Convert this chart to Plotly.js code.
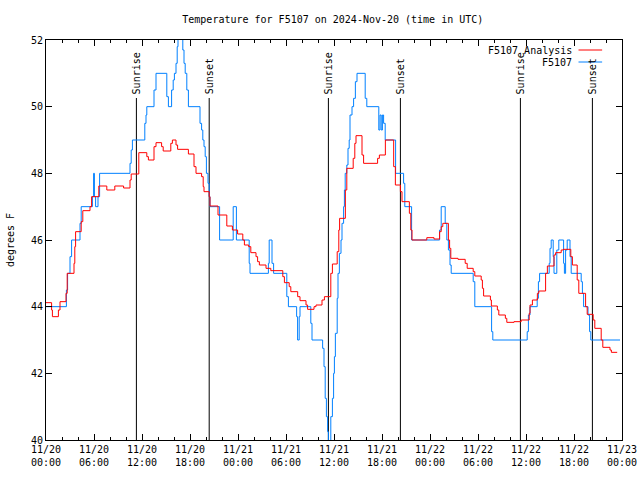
<!DOCTYPE html>
<html>
<head>
<meta charset="utf-8">
<script src="https://cdn.plot.ly/plotly-3.0.1.min.js"></script>
<style>html,body{margin:0;padding:0;background:#fff;}#chart{width:640px;height:480px;}</style>
</head>
<body>
<div id="chart"></div>
<script>
// hours since 2024-11-20 00:00 UTC
const analysisName = "F5107 Analysis";
const analysisHours = [0,0.7,0.8,1.55,1.75,2.5,2.65,3.5,3.6,3.7,4.4,4.6,5.5,5.7,6.6,7.6,8.6,9.7,10.5,10.65,11.6,12.6,12.8,13.5,13.75,14.45,14.65,15.6,15.8,16.25,16.45,17.8,18.5,18.75,19.45,19.65,19.75,20.4,20.5,21.5,22.6,23.3,23.95,24.6,24.8,25.33,25.6,26.25,26.45,26.67,27.5,28.1,29.6,29.8,30.4,30.6,31.46,31.75,32.5,32.7,33.5,33.75,34.5,34.8,35.6,35.8,36.4,36.6,36.7,37.42,37.6,38.4,38.6,38.75,39.5,39.7,41.45,41.67,42.42,43.46,43.67,44.3,44.5,45.42,45.6,45.75,47.6,48.5,49.2,49.4,49.6,50.3,50.45,50.6,51.5,52.4,52.65,53.4,53.6,54.4,54.55,54.7,55.55,55.67,56.42,56.6,57.42,57.6,58.5,59.4,60.4,60.5,60.8,61.42,61.6,62.45,62.67,63.5,63.7,64.4,64.67,65.6,65.8,66.4,66.6,67.45,67.65,68.4,68.6,69.4,69.6,70.5,70.67,71.4];
const analysisTemps = [44.12,43.9,43.7,43.9,44.15,44.4,45.0,45.3,45.8,46.25,46.55,46.88,47.0,47.3,47.62,47.5,47.62,47.56,47.8,47.98,48.62,48.5,48.4,48.8,48.92,48.8,48.67,48.9,49.0,48.85,48.72,48.58,48.2,48.0,47.9,47.6,47.45,47.3,47.02,46.75,46.42,46.3,46.18,46.0,45.85,45.8,45.62,45.5,45.35,45.25,45.15,45.08,44.9,44.72,44.6,44.45,44.3,44.18,44.05,43.92,44.0,44.05,44.2,44.3,45.0,45.28,45.65,46.3,46.65,47.5,48.15,48.45,48.9,49.13,48.55,48.3,48.45,48.55,49.0,48.2,47.65,47.45,47.15,46.8,46.3,46.0,46.07,46.03,46.25,46.4,46.5,46.0,45.75,45.45,45.42,45.3,45.15,45.05,44.92,44.8,44.55,44.32,44.2,44.02,43.9,43.75,43.65,43.53,43.55,43.6,43.8,44.05,44.2,44.4,44.47,45.0,45.22,45.55,45.62,45.7,45.72,45.5,45.25,44.8,44.4,44.0,43.77,43.6,43.35,43.0,42.78,42.7,42.63,42.63];

const obsName = "F5107";
const obsHours = [0,2.55,2.7,3.0,3.2,4.25,4.4,5.8,5.95,6.05,6.2,6.5,6.7,10.5,10.65,10.8,12.35,12.5,12.6,13.5,13.75,15.1,15.3,15.7,15.9,16.05,16.25,16.4,16.5,17.1,17.25,17.4,17.6,17.8,19.25,19.45,19.6,19.75,19.9,20.05,20.25,20.4,20.5,21.7,23.4,23.8,25.4,25.5,27.8,27.9,28.25,28.45,30.1,30.3,31.33,31.45,31.65,31.75,33.1,33.25,34.58,34.75,34.9,35.05,35.2,35.3,35.6,35.8,35.95,36.05,36.17,36.4,36.5,36.67,36.875,37.0,37.2,37.3,37.4,37.6,37.75,37.9,38.0,38.25,38.45,38.67,38.875,39.9,40.1,41.6,41.75,41.9,42.05,42.2,42.4,43.7,44.7,44.85,45.7,49.2,49.4,49.9,50.1,50.3,50.5,50.65,53.4,53.6,55.7,55.85,60.15,60.3,60.5,61.4,61.55,61.7,62.9,63.0,63.15,63.4,63.5,63.85,64.1,64.7,64.8,64.95,65.15,65.5,65.65,66.9,67.05,67.2,67.75,67.95,68.1,71.75];
const obsTemps = [44,44.5,45,45.5,46,46.5,47,47.3,48,47.3,47,47.3,48,48.3,48.7,49,49.5,49.75,50,50.5,51,50.3,50,50.5,50.8,51,51.3,51.8,52.3,51.7,51.3,51,50.5,50,49.5,49.3,49,48.8,48.5,48,47.7,47.3,47,46,47,46,45.3,45,45.3,46,45.3,45,44.3,44,43.7,43,43.7,44,43.5,43,42.75,42.2,41.25,40.7,40.25,39.8,40.7,41.25,42,42.5,43.2,44.25,45,45.6,46,46.5,47,47.5,48,48.25,48.75,49,49.75,50,50.25,50.75,51,50.25,50,49.3,49.75,49.3,49.75,49.5,49,48,47.7,47,46,46.3,47,46.5,46,45.7,45.25,45,44.75,44,43.25,43,43.25,43.75,44,44.25,44.75,45,45.3,45.75,46,45.5,45,45.7,46,45.3,45,45.7,46,45.5,45,44.75,44.4,44,43.75,43.25,43,43];

const sunHours = [11.3, 20.4, 35.3, 44.3, 59.3, 68.3];
const sunLabels = ["Sunrise", "Sunset", "Sunrise", "Sunset", "Sunrise", "Sunset"];
const sunLineTop = 50.26;

const xTickVals = [0,6,12,18,24,30,36,42,48,54,60,66,72];
const xTickDays = ["11/20","11/20","11/20","11/20","11/21","11/21","11/21","11/21","11/22","11/22","11/22","11/22","11/23"];
const xTickTimes = ["00:00","06:00","12:00","18:00","00:00","06:00","12:00","18:00","00:00","06:00","12:00","18:00","00:00"];
const yTickVals = [40,42,44,46,48,50,52];

const FONT = "DejaVu Sans Mono, monospace";
const colors = {analysis: "#ff0000", obs: "#0080ff"};

const sunX = [], sunY = [];
sunHours.forEach(h => { sunX.push(h, h, null); sunY.push(40, sunLineTop, null); });

const traces = [
  {x: sunX, y: sunY, mode: "lines", line: {color: "#000", width: 1}, showlegend: false, hoverinfo: "skip"},
  {x: obsHours, y: obsTemps, name: obsName, mode: "lines", line: {color: colors.obs, width: 1, shape: "hv"}, showlegend: false},
  {x: analysisHours, y: analysisTemps, name: analysisName, mode: "lines", line: {color: colors.analysis, width: 1, shape: "hv"}, showlegend: false}
];

const annotations = sunHours.map((h, i) => ({
  x: h, y: sunLineTop, xref: "x", yref: "y", text: sunLabels[i], textangle: -90,
  showarrow: false, xanchor: "center", yanchor: "bottom", yshift: 2,
  font: {family: FONT, size: 10, color: "#000"}
}));
// legend (gnuplot style: text right, sample line after)
const legendEntries = [[analysisName, colors.analysis, 0.975], [obsName, colors.obs, 0.945]];
const shapes = [];
legendEntries.forEach(([name, col, yp]) => {
  annotations.push({x: 0.9175, y: yp, xref: "paper", yref: "paper", text: name, showarrow: false,
    xanchor: "right", yanchor: "middle", font: {family: FONT, size: 10, color: "#000"}});
  shapes.push({type: "line", xref: "paper", yref: "paper", x0: 0.9245, x1: 0.9655, y0: yp, y1: yp,
    line: {color: col, width: 1}});
});

const layout = {
  width: 640, height: 480,
  margin: {l: 46, r: 18, t: 40, b: 40},
  paper_bgcolor: "#fff", plot_bgcolor: "#fff",
  font: {family: FONT, size: 10, color: "#000"},
  title: {text: "Temperature for F5107 on 2024-Nov-20 (time in UTC)", x: 0.52, xanchor: "center", y: 0.96, yanchor: "middle",
    font: {family: FONT, size: 10, color: "#000"}},
  xaxis: {range: [0, 72], tickmode: "array", tickvals: xTickVals,
    ticktext: xTickVals.map((v, i) => xTickDays[i] + "<br>" + xTickTimes[i]),
    ticks: "inside", ticklen: 6, tickcolor: "#000", mirror: "allticks", showline: true, linecolor: "#000", linewidth: 1,
    showgrid: false, zeroline: false, fixedrange: true,
    minor: {tickmode: "linear", tick0: 0, dtick: 2, ticks: "inside", ticklen: 3, tickcolor: "#000", showgrid: false},
    tickfont: {family: FONT, size: 10, color: "#000"}},
  yaxis: {range: [40, 52], tickmode: "array", tickvals: yTickVals, ticktext: yTickVals.map(String),
    ticks: "inside", ticklen: 6, tickcolor: "#000", mirror: "allticks", showline: true, linecolor: "#000", linewidth: 1,
    showgrid: false, zeroline: false, fixedrange: true,
    title: {text: "degrees F", standoff: 14, font: {family: FONT, size: 10, color: "#000"}},
    tickfont: {family: FONT, size: 10, color: "#000"}},
  annotations: annotations,
  shapes: shapes,
  showlegend: false
};

Plotly.newPlot("chart", traces, layout, {displayModeBar: false, staticPlot: true});
</script>
</body>
</html>
